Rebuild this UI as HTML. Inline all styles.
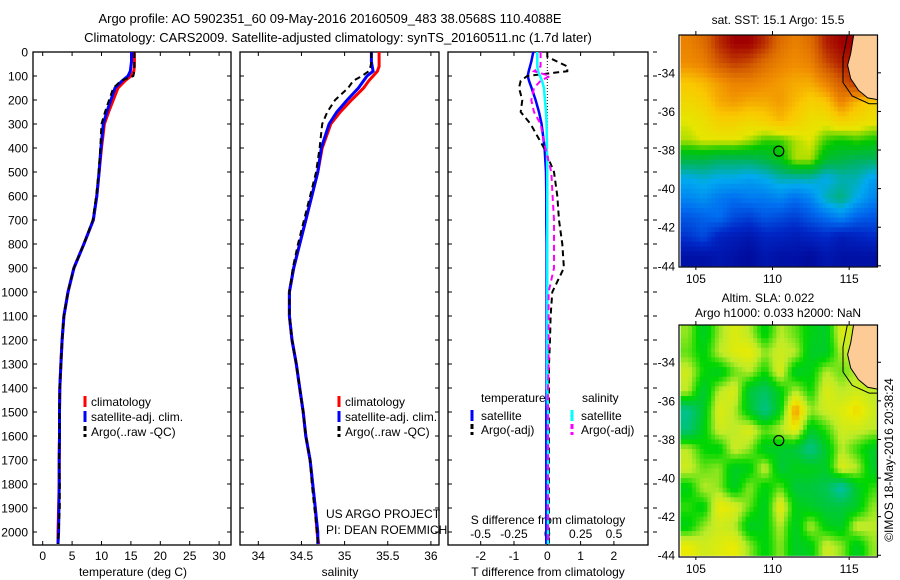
<!DOCTYPE html>
<html><head><meta charset="utf-8"><style>
html,body{margin:0;padding:0;background:#fff;}
svg{display:block;font-family:"Liberation Sans",sans-serif;}
text{fill:#000;}
</style></head><body>
<svg id="fig" width="900" height="580" viewBox="0 0 900 580" xmlns="http://www.w3.org/2000/svg">
<text x="330" y="23" font-size="13" text-anchor="middle">Argo profile: AO 5902351_60 09-May-2016 20160509_483 38.0568S 110.4088E</text>
<text x="338" y="42" font-size="13" text-anchor="middle">Climatology: CARS2009. Satellite-adjusted climatology: synTS_20160511.nc (1.7d later)</text>
<g id="layer"></g>
</svg>
<script>
// ---- profile data ----
const depths = [0,20,40,60,80,100,120,150,200,250,300,400,500,600,700,800,900,1000,1100,1200,1300,1400,1500,1600,1700,1800,1900,2000,2050];
const tempClim = [15.6,15.6,15.6,15.6,15.5,15.0,14.0,12.8,12.0,11.2,10.5,10.0,9.6,9.2,8.6,7.0,5.3,4.3,3.6,3.3,3.1,2.9,2.85,2.85,2.8,2.8,2.7,2.6,2.6];
const tempSat = [15.1,15.1,15.1,15.0,14.9,14.5,13.5,12.3,11.6,10.9,10.3,9.9,9.6,9.2,8.6,7.0,5.3,4.3,3.6,3.3,3.1,2.9,2.85,2.85,2.8,2.8,2.75,2.7,2.6];
const tempArgo = [15.6,15.6,15.6,15.6,15.6,15.4,13.3,12.0,11.3,10.6,10.0,9.8,9.5,9.1,8.5,7.0,5.3,4.3,3.6,3.3,3.1,2.9,2.85,2.85,2.8,2.9,2.9,2.7,2.6];
const salClim = [35.40,35.40,35.40,35.40,35.38,35.33,35.28,35.22,35.08,34.95,34.84,34.74,34.69,34.62,34.55,34.48,34.41,34.36,34.36,34.39,34.44,34.48,34.52,34.55,34.60,34.63,34.66,34.68,34.70];
const salSat = [35.31,35.31,35.31,35.32,35.33,35.26,35.22,35.16,35.03,34.91,34.82,34.73,34.69,34.62,34.55,34.48,34.41,34.36,34.36,34.39,34.44,34.48,34.52,34.55,34.60,34.63,34.66,34.69,34.69];
const salArgo = [35.31,35.31,35.31,35.30,35.28,35.20,35.10,35.04,34.89,34.80,34.74,34.71,34.67,34.60,34.53,34.46,34.40,34.36,34.36,34.39,34.44,34.48,34.52,34.55,34.60,34.62,34.65,34.68,34.69];
const dTsat = [-0.42,-0.45,-0.48,-0.52,-0.56,-0.59,-0.55,-0.47,-0.35,-0.25,-0.17,-0.08,-0.04,-0.03,-0.03,-0.02,-0.02,-0.02,-0.02,-0.02,-0.02,-0.02,-0.03,-0.03,-0.03,-0.03,-0.03,-0.03,-0.03];
const dTargo = [0,0,0.3,0.6,0.6,-0.6,-0.8,-0.85,-0.75,-0.8,-0.5,-0.1,0.2,0.3,0.35,0.45,0.5,0.15,0.1,0.08,0.05,0.05,0.05,0.05,0.05,0.05,0.05,0.05,0.05];
const dSsat = [-0.075,-0.075,-0.075,-0.075,-0.07,-0.055,-0.04,-0.025,-0.018,-0.01,-0.005,-0.003,0,0,0,0,0,0,0,0,0,0,0.005,0.005,0.005,0.005,0.005,0.005,0.005];
const dSargo = [-0.05,-0.05,-0.05,-0.05,-0.1,0.02,-0.05,-0.1,-0.12,-0.1,-0.05,-0.015,0.03,0.04,0.05,0.05,0.05,0.01,0.01,0.01,0.01,0.005,0.005,0.005,0.005,0.005,0.005,0.005,0.005];
const depthTicks = [0,100,200,300,400,500,600,700,800,900,1000,1100,1200,1300,1400,1500,1600,1700,1800,1900,2000];
const tempTicks = [0,5,10,15,20,25,30];
const salTicks = [34,34.5,35,35.5,36];
const salTickLabels = ["34","34.5","35","35.5","36"];
const dTTicks = [-2,-1,0,1,2];
const dSTicks = [-0.5,-0.25,0,0.25,0.5];
const dSTickLabels = ["-0.5","-0.25","0","0.25","0.5"];
// ---- map data ----
const mapLons = [104,105,106,107,108,109,110,111,112,113,114,115,116];
const mapLats = [32,33,34,35,36,37,38,39,40,41,42,43];
const sst = [
[15.8,16,16.5,16.8,16.8,16.5,16,15.8,16,16.6,16.8,16.8,16.8],
[15.7,15.8,16.2,16.4,16.3,16,15.8,15.7,15.8,16.3,16.6,16.6,16.6],
[15.3,15.4,15.6,15.8,15.8,15.7,15.6,15.5,15.5,15.8,16.2,16.5,16.5],
[15.1,15.2,15.5,15.6,15.5,15.5,15.6,15.4,15.2,15.3,15.8,15.4,15.2],
[14.9,15,15.2,15.2,15.1,15.2,15.4,15.2,15,15,15.2,15.1,15],
[14.8,14.9,14.9,14.9,14.8,14.6,14.6,14.8,14.9,14.6,14.5,14.6,14.5],
[14.2,14.2,14.1,14.1,14.1,14.2,14.4,14.8,14.8,14.3,14.2,14.1,14.1],
[13.6,13.7,13.6,13.6,13.5,13.6,13.8,13.8,13.8,13.6,13.8,13.8,13.5],
[13.3,13.4,13.2,13.1,13.2,13.2,13.3,13.1,13.3,13.8,14,13.6,13.3],
[12.9,13,13.1,12.8,12.7,12.9,12.8,12.7,12.9,13.1,13.3,13,12.9],
[12.6,12.8,12.4,12.3,12.2,12.4,12.4,12.3,12.4,12.5,12.3,12.4,12.5],
[12.1,12.1,12.2,12.1,12.0,12.2,12.1,12.1,12,12.2,12.1,12.1,12.1]];
const sla = [
[0.2,-0.3,0.2,0.5,0.3,-0.2,0.3,0.1,-0.2,-0.3,0.5,0.3,0.3],
[0.1,-0.2,0.3,0.5,0.6,0.2,0.4,0.3,-0.3,-0.3,0.3,0.3,0.3],
[0.4,-0.1,-0.3,0.1,0.3,-0.1,0.5,-0.3,-0.2,0.3,0.1,0.3,0.3],
[0.3,-0.4,0.3,0.5,-0.4,-0.6,-0.2,0.3,-0.1,0.5,0.3,0.4,0.3],
[-0.8,-0.3,0.5,0.3,-0.3,-0.8,-0.2,1.0,0.2,0.4,0.5,0.7,0.4],
[-0.7,-0.2,0.4,0.3,0.5,0.1,0.3,0.6,-0.3,0.0,0.4,0.4,0.3],
[0.3,-0.1,-0.2,0.4,0.2,-0.3,-0.3,-0.4,-0.8,-0.3,0.3,0.0,-0.3],
[0.4,0.1,0.2,-0.3,-0.2,0.4,-0.4,-0.2,-0.2,-0.3,0.5,0.3,-0.3],
[-0.2,0.3,0.2,-0.3,0.2,-0.2,0.1,-0.4,-0.4,-0.5,-1.0,-0.3,0.0],
[0.0,-0.2,0.6,0.5,0.1,-0.3,0.6,-0.2,-0.3,-0.4,-0.4,-0.3,0.2],
[-0.2,0.2,0.4,0.3,-0.3,-0.2,0.3,-0.3,0.3,-0.2,-0.3,0.4,0.3],
[0.6,0.4,0.5,0.6,0.2,-0.2,0.2,-0.3,-0.2,0.4,0.2,-0.3,0.2]];
const coastLon = [115.3,115.1,114.9,115.1,115.6,116.2,116.9];
const coastLat = [32.0,33.0,33.6,34.3,34.9,35.3,35.4];
const shelfLon = [114.9,114.6,114.6,115.2,116.3,116.9];
const shelfLat = [32.0,33.2,34.5,35.2,35.6,35.6];
const argoLon = 110.4088, argoLat = 38.0568;
const mapLatTicks = [34,36,38,40,42,44];
const mapLonTicks = [105,110,115];

const NS="http://www.w3.org/2000/svg";
const L=document.getElementById('layer');
function mk(tag,attrs,parent){const e=document.createElementNS(NS,tag);for(const k in attrs)e.setAttribute(k,attrs[k]);(parent||L).appendChild(e);return e;}
function txt(x,y,s,size,anchor,parent){const t=mk('text',{x:x,y:y,'font-size':size,'text-anchor':anchor||'start'},parent);t.textContent=s;return t;}

const PT=52, PB=545;
const yD=d=>PT+d*0.24;
const xT=t=>42.7+t*5.88;
const xS=s=>258.3+(s-34)*86.3;
const xDT=v=>547.3+v*33.3;
const xDS=v=>547.3+v*133.3;
const panels=[{x0:33,x1:231},{x0:240,x1:439},{x0:448,x1:648}];

function frame(p,name){
  const r=mk('rect',{x:p.x0,y:PT,width:p.x1-p.x0,height:PB-PT,fill:'none',stroke:'#000','stroke-width':1.3});
  
  
  depthTicks.forEach(d=>{mk('line',{x1:p.x0,x2:p.x0+4,y1:yD(d),y2:yD(d),stroke:'#000'});mk('line',{x1:p.x1,x2:p.x1-4,y1:yD(d),y2:yD(d),stroke:'#000'});});
}
function line(xs,ys,fx,color,w,dash,name){
  const pts=xs.map((v,i)=>fx(v).toFixed(1)+','+yD(ys[i]).toFixed(1)).join(' ');
  const a={points:pts,fill:'none',stroke:color,'stroke-width':w};
  if(dash)a['stroke-dasharray']=dash;
  const e=mk('polyline',a);
  
  
}
// panel 1
frame(panels[0],'temperature-panel');
depthTicks.forEach(d=>{const t=txt(28,yD(d)+4.5,String(d),12,'end');});
tempTicks.forEach(v=>{mk('line',{x1:xT(v),x2:xT(v),y1:PB,y2:PB-4,stroke:'#000'});mk('line',{x1:xT(v),x2:xT(v),y1:PT,y2:PT+4,stroke:'#000'});
 const t=txt(xT(v),560,String(v),12,'middle');});
{const t=txt(133,576,'temperature (deg C)',12,'middle');}
line(tempClim,depths,xT,'#f00',3,null,'temp-climatology-line');
line(tempSat,depths,xT,'#00f',3,null,'temp-satellite-line');
line(tempArgo,depths,xT,'#000',2,'6,4','temp-argo-line');
// panel 2
frame(panels[1],'salinity-panel');
salTicks.forEach((v,i)=>{mk('line',{x1:xS(v),x2:xS(v),y1:PB,y2:PB-4,stroke:'#000'});mk('line',{x1:xS(v),x2:xS(v),y1:PT,y2:PT+4,stroke:'#000'});
 const t=txt(xS(v),560,salTickLabels[i],12,'middle');});
{const t=txt(340,576,'salinity',12,'middle');}
line(salClim,depths,xS,'#f00',3,null,'sal-climatology-line');
line(salSat,depths,xS,'#00f',3,null,'sal-satellite-line');
line(salArgo,depths,xS,'#000',2,'6,4','sal-argo-line');
{const t=txt(326,518,'US ARGO PROJECT',12);
 const t2=txt(326,534,'PI: DEAN ROEMMICH',12);}
[[85,'legend-temp'],[339,'legend-sal']].forEach(([lx,nm])=>{
  const g=mk('g',{});
  [['#f00','climatology',null],['#00f','satellite-adj. clim.',null],['#000','Argo(..raw -QC)','5,3']].forEach((it,i)=>{
    const y=402+i*15;const a={x1:lx,x2:lx,y1:y-6,y2:y+5,stroke:it[0],'stroke-width':3};if(it[2])a['stroke-dasharray']=it[2];mk('line',a,g);
    txt(lx+6,y+4,it[1],12,'start',g);});
});
// panel 3
frame(panels[2],'difference-panel');
depthTicks.forEach(d=>mk('line',{x1:653,x2:657,y1:yD(d),y2:yD(d),stroke:'#000'}));
dTTicks.forEach(v=>{mk('line',{x1:xDT(v),x2:xDT(v),y1:PB,y2:PB-4,stroke:'#000'});mk('line',{x1:xDT(v),x2:xDT(v),y1:PT,y2:PT+4,stroke:'#000'});
 const t=txt(xDT(v),560,String(v),12,'middle');});
dSTicks.forEach((v,i)=>{const t=txt(xDS(v),538,dSTickLabels[i],12,'middle');});
{const t=txt(548,524,'S difference from climatology',12,'middle');
 const t2=txt(548,576,'T difference from climatology',12,'middle');}
{const z=mk('line',{x1:xDT(0),x2:xDT(0),y1:PT,y2:PB,stroke:'#000','stroke-dasharray':'1,2'});}
line(dTsat,depths,xDT,'#00f',2.5,null,'t-diff-satellite-line');
line(dTargo,depths,xDT,'#000',2,'6,4','t-diff-argo-line');
line(dSsat,depths,xDS,'#0ff',2.5,null,'s-diff-satellite-line');
line(dSargo,depths,xDS,'#f0f',2,'6,4','s-diff-argo-line');
{const g=mk('g',{});
 txt(481,402,'temperature',12,'start',g);txt(582,402,'salinity',12,'start',g);
 [[472,'#00f','satellite',null],[472,'#000','Argo(-adj)','5,3'],[572,'#0ff','satellite',null],[572,'#f0f','Argo(-adj)','5,3']].forEach((it,i)=>{
   const y=416+(i%2)*14;const a={x1:it[0],x2:it[0],y1:y-6,y2:y+5,stroke:it[1],'stroke-width':3};if(it[3])a['stroke-dasharray']=it[3];mk('line',a,g);
   txt(it[0]+9,y+4,it[2],12,'start',g);});}

// ---- maps ----
function lerpCol(stops,v){
  let c;
  if(v<=stops[0][0])c=stops[0][1];
  else if(v>=stops[stops.length-1][0])c=stops[stops.length-1][1];
  else{for(let i=1;i<stops.length;i++){if(v<=stops[i][0]){const a=stops[i-1],b=stops[i];const f=(v-a[0])/(b[0]-a[0]);c=[0,1,2].map(k=>Math.round(a[1][k]+(b[1][k]-a[1][k])*f));break;}}}
  return 'rgb('+c.join(',')+')';
}
const sstStops=[[11.8,[0,0,140]],[12.5,[0,40,200]],[13.1,[0,110,240]],[13.6,[0,170,240]],[14.1,[0,180,90]],[14.5,[0,200,0]],[14.9,[230,230,0]],[15.3,[250,200,0]],[15.7,[240,140,0]],[16.2,[210,90,0]],[16.8,[160,0,0]]];
const slaStops=[[-1,[0,190,180]],[-0.4,[0,200,60]],[-0.1,[0,215,0]],[0.3,[190,235,40]],[0.6,[235,235,0]],[1,[250,140,0]]];
const sstRGB=v=>lerpCol(sstStops,v);
const slaRGB=v=>lerpCol(slaStops,v);

function sample(grid,fi,fj){
  const nj=grid.length,ni=grid[0].length;
  fi=Math.max(0,Math.min(ni-1,fi));fj=Math.max(0,Math.min(nj-1,fj));
  const i0=Math.floor(fi),j0=Math.floor(fj),i1=Math.min(ni-1,i0+1),j1=Math.min(nj-1,j0+1);
  const a=fi-i0,b=fj-j0;
  return grid[j0][i0]*(1-a)*(1-b)+grid[j0][i1]*a*(1-b)+grid[j1][i0]*(1-a)*b+grid[j1][i1]*a*b;
}
function drawMap(cfg){
  const xL=lon=>679+(lon-103.9)*15.33;
  const yL=lat=>cfg.top+(lat-cfg.lat0)*19.3;
  const g=mk('g',{});
  const cid='clip'+cfg.name;
  const cp=mk('clipPath',{id:cid},g);mk('rect',{x:679,y:cfg.top,width:198.5,height:cfg.bot-cfg.top},cp);
  const cells=mk('g',{'clip-path':'url(#'+cid+')'},g);
  const sub=cfg.sub;
  for(let j=0;j<mapLats.length*sub;j++){
    for(let i=0;i<mapLons.length*sub;i++){
      const v=sample(cfg.grid,(i+0.5)/sub-0.5,(j+0.5)/sub-0.5);
      const c=mk('rect',{x:xL(mapLons[0]+i/sub).toFixed(2),y:yL(mapLats[0]+j/sub).toFixed(2),width:(15.33/sub+0.6).toFixed(2),height:(19.3/sub+0.6).toFixed(2),fill:cfg.col(v)},cells);
      
      
    }
  }
  const land=coastLon.map((lo,i)=>xL(lo).toFixed(1)+','+yL(coastLat[i]).toFixed(1));
  const lp=mk('polygon',{points:land.join(' ')+' '+xL(117.5)+','+yL(35.4)+' '+xL(117.5)+','+yL(31.5)+' '+xL(115.3)+','+yL(31.5),fill:'#fccb96',stroke:'#000','stroke-width':1},cells);
  
  mk('polyline',{points:shelfLon.map((lo,i)=>xL(lo).toFixed(1)+','+yL(shelfLat[i]).toFixed(1)).join(' '),fill:'none',stroke:'#000','stroke-width':1},cells);
  const ac=mk('circle',{cx:xL(argoLon),cy:yL(argoLat),r:5,fill:'none',stroke:'#000','stroke-width':1.2},g);
  
  mk('rect',{x:679,y:cfg.top,width:198.5,height:cfg.bot-cfg.top,fill:'none',stroke:'#000','stroke-width':1.2},g);
  mapLatTicks.forEach(la=>{const y=yL(la);mk('line',{x1:877.5,x2:881,y1:y,y2:y,stroke:'#000'},g);
    const t=txt(675,y+4.5,'-'+la,12,'end',g);});
  mapLonTicks.forEach(lo=>{const x=xL(lo);mk('line',{x1:x,x2:x,y1:cfg.top,y2:cfg.top-4,stroke:'#000'},g);mk('line',{x1:x,x2:x,y1:cfg.bot,y2:cfg.bot+3,stroke:'#000'},g);
    const t=txt(x,cfg.bot+16,String(lo),12,'middle',g);});
}
drawMap({name:'sst-map',top:35,bot:267,lat0:32.04,grid:sst,col:sstRGB,sub:4});
drawMap({name:'sla-map',top:325,bot:557,lat0:32.07,grid:sla,col:slaRGB,sub:4});
{const t=txt(778,24,'sat. SST: 15.1 Argo: 15.5',12,'middle');
 const t2=txt(768,302,'Altim. SLA: 0.022',12,'middle');
 const t3=txt(778,317,'Argo h1000: 0.033 h2000: NaN',12,'middle');
 const t4=txt(0,0,'©IMOS 18-May-2016 20:38:24',12,'middle');t4.setAttribute('transform','translate(893,460) rotate(-90)');}
</script>
</body></html>
